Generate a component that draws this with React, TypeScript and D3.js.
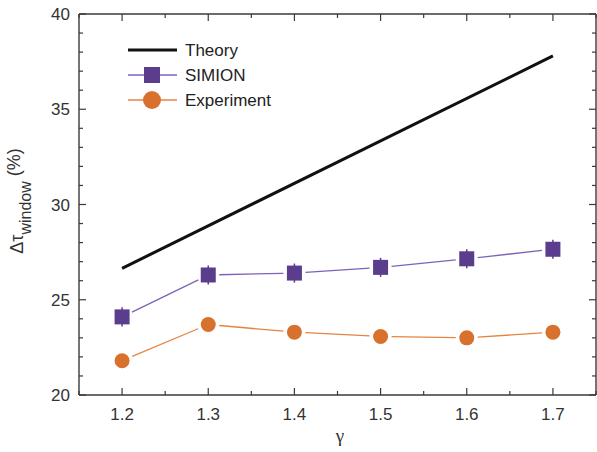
import React from "react";
import * as d3 from "d3";

const gammaValues = [1.2, 1.3, 1.4, 1.5, 1.6, 1.7];
const theoryGamma = [1.2, 1.7];
const theoryValues = [26.65, 37.8];
const simionValues = [24.1, 26.3, 26.4, 26.7, 27.15, 27.65];
const simionErrors = [0.5, 0.5, 0.5, 0.5, 0.5, 0.5];
const experimentValues = [21.8, 23.7, 23.3, 23.07, 23.0, 23.3];
const experimentErrors = [0.3, 0.3, 0.3, 0.3, 0.3, 0.3];
const xTicks = [1.2, 1.3, 1.4, 1.5, 1.6, 1.7];
const xMinorTicks = [1.15, 1.2, 1.25, 1.3, 1.35, 1.4, 1.45, 1.5, 1.55, 1.6, 1.65, 1.7, 1.75];
const yTicks = [20, 25, 30, 35, 40];
const yMinorTicks = d3.range(20, 41, 1);
const legendLabels = ["Theory", "SIMION", "Experiment"];

const W = 597;
const H = 452;
const left = 79;
const right = 596;
const top = 14;
const bottom = 395;

const PURPLE = "#5a3d8c";
const PURPLE_LINE = "#7d63b8";
const ORANGE = "#d9712e";
const ORANGE_LINE = "#e5843f";
const AXIS = "#3a3a3a";
const TEXT = "#333";

export default function App() {
  const x = d3.scaleLinear().domain([1.15, 1.75]).range([left, right]);
  const y = d3.scaleLinear().domain([20, 40]).range([bottom, top]);

  const gappedSegments = (vals: number[], gap: number) => {
    const segs: JSX.Element[] = [];
    for (let i = 0; i < vals.length - 1; i++) {
      const x1 = x(gammaValues[i]), y1 = y(vals[i]);
      const x2 = x(gammaValues[i + 1]), y2 = y(vals[i + 1]);
      const dx = x2 - x1, dy = y2 - y1;
      const len = Math.hypot(dx, dy);
      const ux = dx / len, uy = dy / len;
      segs.push(
        <line key={i} x1={x1 + ux * gap} y1={y1 + uy * gap} x2={x2 - ux * gap} y2={y2 - uy * gap} />
      );
    }
    return segs;
  };

  const theoryLine = d3
    .line<number>()
    .x((_, i) => x(theoryGamma[i]))
    .y((d) => y(d));

  const font = "'Liberation Sans', Arial, sans-serif";

  return (
    <svg width={W} height={H} style={{ position: "absolute", left: 0, top: 0, background: "#fff" }} fontFamily={font}>
      {/* frame */}
      <g stroke={AXIS} strokeWidth={1.4} fill="none">
        <line x1={left} y1={bottom} x2={right} y2={bottom} />
        <line x1={left} y1={top} x2={right} y2={top} />
        <line x1={left} y1={top} x2={left} y2={bottom} />
        <line x1={right} y1={top} x2={right} y2={bottom} />
      </g>
      {/* ticks */}
      <g stroke={AXIS} strokeWidth={1.2}>
        {xMinorTicks.map((t) => {
          const major = xTicks.some((m) => Math.abs(m - t) < 1e-6);
          const len = major ? 7 : 4;
          return (
            <g key={t}>
              <line x1={x(t)} x2={x(t)} y1={bottom} y2={bottom - len} />
              <line x1={x(t)} x2={x(t)} y1={top} y2={top + len} />
            </g>
          );
        })}
        {yMinorTicks.map((t) => {
          const major = yTicks.includes(t);
          const len = major ? 7 : 4;
          return (
            <g key={t}>
              <line x1={left} x2={left + len} y1={y(t)} y2={y(t)} />
              <line x1={right} x2={right - len} y1={y(t)} y2={y(t)} />
            </g>
          );
        })}
      </g>
      {/* tick labels */}
      <g fill={TEXT} fontSize={17}>
        {xTicks.map((t) => (
          <text key={t} x={x(t)} y={bottom + 25} textAnchor="middle">
            {t.toFixed(1)}
          </text>
        ))}
        {yTicks.map((t) => (
          <text key={t} x={left - 9} y={y(t) + 6} textAnchor="end">
            {t}
          </text>
        ))}
      </g>
      {/* axis labels */}
      <text x={340} y={442} textAnchor="middle" fontSize={19} fill={TEXT} fontFamily="'Liberation Serif', 'DejaVu Serif', serif">
        γ
      </text>
      <text
        transform={`translate(23, 201) rotate(-90)`}
        textAnchor="middle"
        fontSize={18}
        fill={TEXT}
      >
        Δτ
        <tspan fontSize={16} dy={8}>window</tspan>
        <tspan dy={-11}> (%)</tspan>
      </text>

      {/* theory */}
      <path d={theoryLine(theoryValues) || ""} stroke="#111" strokeWidth={3} fill="none" />

      {/* SIMION */}
      <g stroke={PURPLE_LINE} strokeWidth={1.3}>{gappedSegments(simionValues, 11)}</g>
      <g stroke={PURPLE} strokeWidth={1.5}>
        {simionValues.map((v, i) => (
          <line key={i} x1={x(gammaValues[i])} x2={x(gammaValues[i])} y1={y(v - simionErrors[i])} y2={y(v + simionErrors[i])} />
        ))}
      </g>
      <g fill={PURPLE}>
        {simionValues.map((v, i) => (
          <rect key={i} x={x(gammaValues[i]) - 7.5} y={y(v) - 7.5} width={15} height={15} />
        ))}
      </g>

      {/* Experiment */}
      <g stroke={ORANGE_LINE} strokeWidth={1.3}>{gappedSegments(experimentValues, 11)}</g>
      <g stroke={ORANGE} strokeWidth={1.5}>
        {experimentValues.map((v, i) => (
          <line key={i} x1={x(gammaValues[i])} x2={x(gammaValues[i])} y1={y(v - experimentErrors[i])} y2={y(v + experimentErrors[i])} />
        ))}
      </g>
      <g fill={ORANGE}>
        {experimentValues.map((v, i) => (
          <circle key={i} cx={x(gammaValues[i])} cy={y(v)} r={7.5} />
        ))}
      </g>

      {/* legend */}
      <g fontSize={17} fill="#222">
        <line x1={128} x2={177} y1={50} y2={50} stroke="#111" strokeWidth={3} />
        <text x={185} y={56}>{legendLabels[0]}</text>

        <line x1={128} x2={177} y1={75} y2={75} stroke={PURPLE_LINE} strokeWidth={1.3} />
        <rect x={144} y={67} width={16} height={16} fill={PURPLE} />
        <text x={185} y={81}>{legendLabels[1]}</text>

        <line x1={128} x2={177} y1={100} y2={100} stroke={ORANGE_LINE} strokeWidth={1.3} />
        <circle cx={152} cy={100} r={9} fill={ORANGE} />
        <text x={185} y={106}>{legendLabels[2]}</text>
      </g>
    </svg>
  );
}
